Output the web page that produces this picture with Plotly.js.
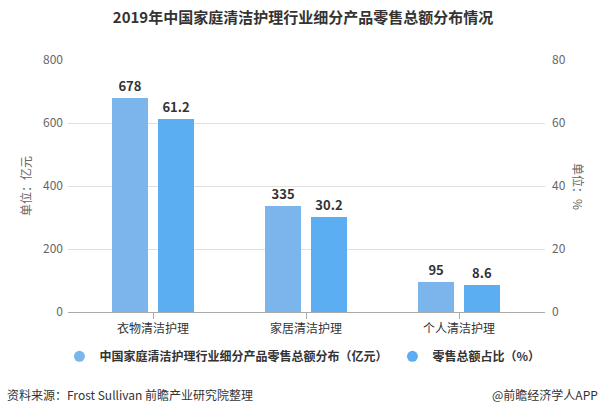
<!DOCTYPE html>
<html><head><meta charset="utf-8">
<script src="https://cdn.plot.ly/plotly-3.0.1.min.js"></script>
<style>body{margin:0;background:#fff}#chart{width:606px;height:414px}</style>
</head><body><div id="chart"></div>
<script>
const categories = ["衣物清洁护理", "家居清洁护理", "个人清洁护理"];
const salesValues = [678, 335, 95];      // 亿元
const shareValues = [61.2, 30.2, 8.6];   // %
const seriesNames = ["中国家庭清洁护理行业细分产品零售总额分布（亿元）", "零售总额占比（%）"];
const leftTicks = [0, 200, 400, 600, 800];
const rightTicks = [0, 20, 40, 60, 80];

const c1 = "#7cb5ec", c2 = "#5caef3";
const font = "'Microsoft YaHei','Noto Sans CJK SC','Noto Sans',sans-serif";
const idx = categories.map((_, i) => i);

const traces = [
  {type: "bar", x: idx, y: salesValues, yaxis: "y", width: 0.235, offset: -0.2675,
   marker: {color: c1}, text: salesValues.map(String), textposition: "outside",
   textfont: {size: 13, color: "#333", family: font, weight: "bold"}, cliponaxis: false,
   showlegend: false, hoverinfo: "x+y"},
  {type: "bar", x: idx, y: shareValues, yaxis: "y2", width: 0.235, offset: 0.0325,
   marker: {color: c2}, text: shareValues.map(v => v.toFixed(1)), textposition: "outside",
   textfont: {size: 13, color: "#333", family: font, weight: "bold"}, cliponaxis: false,
   showlegend: false, hoverinfo: "x+y"},
  {type: "scatter", mode: "markers", x: [null], y: [null], name: seriesNames[0],
   marker: {symbol: "circle", size: 11, color: c1}},
  {type: "scatter", mode: "markers", x: [null], y: [null], name: seriesNames[1],
   marker: {symbol: "circle", size: 11, color: c2}}
];

const layout = {
  width: 606, height: 414,
  margin: {l: 68, r: 61, t: 59.5, b: 102.3},
  paper_bgcolor: "#fff", plot_bgcolor: "#fff",
  font: {family: font, color: "#333", size: 12},
  title: {text: "<b>2019年中国家庭清洁护理行业细分产品零售总额分布情况</b>", x: 0.5, xanchor: "center",
          y: 0.956, yanchor: "middle", font: {size: 15, color: "#333", family: font}},
  barmode: "overlay",
  bargap: 0,
  xaxis: {range: [-0.556, 2.562], tickvals: idx, ticktext: categories, showgrid: false,
          showline: true, linecolor: "#aaa", linewidth: 1, ticks: "outside", ticklen: 6,
          tickcolor: "#aaa", tickfont: {size: 12, color: "#333"}, zeroline: false, fixedrange: true},
  yaxis: {range: [0, 800], tickvals: leftTicks, showgrid: true, gridcolor: "#e0e0e0",
          zeroline: false, tickfont: {size: 12, color: "#666"}, ticks: "", ticklabelstandoff: 4,
          title: {text: "单位：亿元", font: {size: 12, color: "#666"}, standoff: 8}},
  yaxis2: {range: [0, 80], tickvals: rightTicks, overlaying: "y", side: "right", showgrid: false,
           zeroline: false, tickfont: {size: 12, color: "#666"}, ticklabelstandoff: 6},
  legend: {orientation: "h", x: -0.018, xanchor: "left", y: -0.176, yanchor: "middle",
           font: {size: 12, color: "#333", weight: "bold"}, itemwidth: 30, tracegroupgap: 0},
  annotations: [
    {text: "单位：%", textangle: 90, xref: "paper", yref: "paper", x: 1 + 34/477, xanchor: "center",
     y: 0.5, yanchor: "middle", showarrow: false, font: {size: 12, color: "#666"}},
    {text: "资料来源：Frost Sullivan 前瞻产业研究院整理", xref: "paper", yref: "paper",
     x: -68/477, xanchor: "left", xshift: 5, y: -82/252, yanchor: "middle", showarrow: false,
     font: {size: 12, color: "#333"}},
    {text: "@前瞻经济学人APP", xref: "paper", yref: "paper", x: 1 + 61/477, xanchor: "right",
     xshift: -6, y: -82/252, yanchor: "middle", showarrow: false, font: {size: 12, color: "#333"}}
  ]
};

Plotly.newPlot("chart", traces, layout, {displayModeBar: false, staticPlot: true});
</script></body></html>
